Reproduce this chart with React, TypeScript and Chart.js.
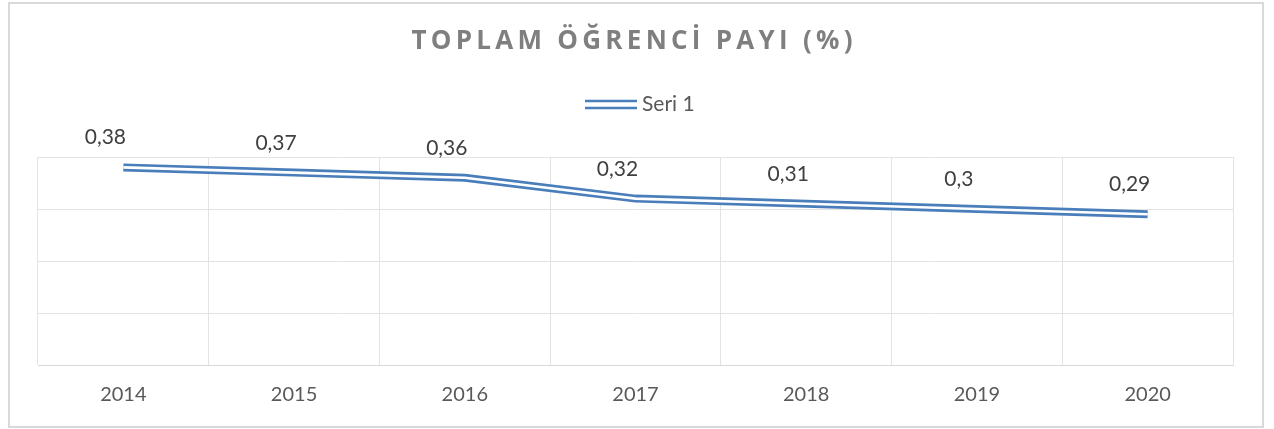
import React, { useEffect, useRef } from 'react';
import { Chart, registerables } from 'chart.js';

Chart.register(...registerables);

const categories = ['2014', '2015', '2016', '2017', '2018', '2019', '2020'];
const values = [0.38, 0.37, 0.36, 0.32, 0.31, 0.3, 0.29];
const seriesName = 'Seri 1';
const titleText = 'TOPLAM ÖĞRENCİ PAYI (%)';
const yMin = 0;
const yMax = 0.4;
const yStep = 0.1;

const BLUE = '#4a7ebb';
const FONT = 'Lato, "Open Sans", sans-serif';
const TITLE_FONT = '"Open Sans", Lato, sans-serif';

const fmt = (v: number) => String(v).replace('.', ',');

const decorPlugin = {
  id: 'decor',
  beforeDraw(chart: any) {
    const ctx = chart.ctx;
    ctx.save();
    ctx.fillStyle = '#ffffff';
    ctx.fillRect(0, 0, chart.width, chart.height);
    ctx.restore();
  },
  afterDatasetsDraw(chart: any) {
    const ctx = chart.ctx;
    const meta = chart.getDatasetMeta(1);
    ctx.save();
    ctx.font = `21px ${FONT}`;
    ctx.fillStyle = '#404040';
    ctx.textAlign = 'center';
    ctx.textBaseline = 'alphabetic';
    meta.data.forEach((pt: any, i: number) => {
      ctx.fillText(fmt(values[i]), pt.x - 18, pt.y - 23);
    });
    ctx.restore();
  },
  afterDraw(chart: any) {
    const ctx = chart.ctx;
    ctx.save();
    // outer border
    ctx.strokeStyle = '#d9d9d9';
    ctx.lineWidth = 2;
    ctx.strokeRect(9, 3, 1254, 424);

    // title with letter spacing
    ctx.font = `700 26px ${TITLE_FONT}`;
    ctx.fillStyle = '#7f7f7f';
    ctx.textBaseline = 'alphabetic';
    ctx.textAlign = 'left';
    const chars = Array.from(titleText);
    const widths = chars.map((c) => ctx.measureText(c).width);
    const natural = widths.reduce((a, b) => a + b, 0);
    const targetW = 441;
    const spacing = (targetW - natural) / (chars.length - 1);
    let x = 632 - targetW / 2;
    chars.forEach((c, i) => {
      ctx.fillText(c, x, 49);
      x += widths[i] + spacing;
    });

    // legend
    ctx.strokeStyle = BLUE;
    ctx.lineWidth = 2.5;
    ctx.beginPath();
    ctx.moveTo(585, 101);
    ctx.lineTo(637, 101);
    ctx.moveTo(585, 108);
    ctx.lineTo(637, 108);
    ctx.stroke();
    ctx.font = `21px ${FONT}`;
    ctx.fillStyle = '#595959';
    ctx.fillText(seriesName, 642, 111);
    ctx.restore();
  },
};

export default function App() {
  const ref = useRef<HTMLCanvasElement | null>(null);
  useEffect(() => {
    if (!ref.current) return;
    const chart = new Chart(ref.current, {
      type: 'line',
      data: {
        labels: categories,
        datasets: [
          {
            label: seriesName + ' inner',
            data: values,
            borderColor: '#ffffff',
            borderWidth: 2.6,
            pointRadius: 0,
            tension: 0,
            fill: false,
          },
          {
            label: seriesName,
            data: values,
            borderColor: BLUE,
            borderWidth: 8,
            pointRadius: 0,
            tension: 0,
            fill: false,
          },
        ],
      },
      options: {
        animation: false,
        responsive: false,
        maintainAspectRatio: false,
        layout: { padding: { left: 38, right: 41, top: 157, bottom: 4 } },
        plugins: {
          legend: { display: false },
          title: { display: false },
          tooltip: { enabled: false },
        },
        scales: {
          x: {
            offset: true,
            grid: { offset: true, color: '#e3e3e3', lineWidth: 1, drawTicks: false },
            border: { color: '#d9d9d9', width: 1 },
            ticks: {
              padding: 18,
              color: '#595959',
              font: { family: FONT, size: 20 },
            },
          },
          y: {
            min: yMin,
            max: yMax,
            grid: { color: '#e3e3e3', lineWidth: 1, drawTicks: false },
            border: { display: false },
            ticks: { display: false, stepSize: yStep },
          },
        },
      },
      plugins: [decorPlugin],
    });
    return () => chart.destroy();
  }, []);
  return (
    <div style={{ position: 'fixed', left: 0, top: 0, width: 1274, height: 429 }}>
      <canvas ref={ref} width={1274} height={429} style={{ display: 'block', width: 1274, height: 429 }} />
    </div>
  );
}
